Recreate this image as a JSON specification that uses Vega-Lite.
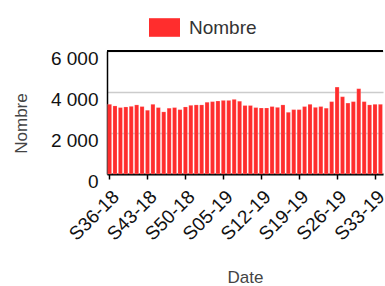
{
  "$schema": "https://vega.github.io/schema/vega-lite/v6.json",
  "width": 276,
  "height": 123,
  "autosize": {"type": "none"},
  "padding": {"left": 107, "top": 51, "right": 2, "bottom": 112},
  "config": {
    "font": "Liberation Sans",
    "view": {"stroke": null},
    "axis": {"labelFont": "Liberation Sans", "titleFont": "Liberation Sans"}
  },
  "data": {"values": [
    {"semaine": "S36-18", "nombre": 3400},
    {"semaine": "S37-18", "nombre": 3320},
    {"semaine": "S38-18", "nombre": 3240},
    {"semaine": "S39-18", "nombre": 3270},
    {"semaine": "S40-18", "nombre": 3300},
    {"semaine": "S41-18", "nombre": 3370},
    {"semaine": "S42-18", "nombre": 3290},
    {"semaine": "S43-18", "nombre": 3110},
    {"semaine": "S44-18", "nombre": 3400},
    {"semaine": "S45-18", "nombre": 3240},
    {"semaine": "S46-18", "nombre": 3030},
    {"semaine": "S47-18", "nombre": 3210},
    {"semaine": "S48-18", "nombre": 3240},
    {"semaine": "S49-18", "nombre": 3140},
    {"semaine": "S50-18", "nombre": 3270},
    {"semaine": "S51-18", "nombre": 3350},
    {"semaine": "S52-18", "nombre": 3370},
    {"semaine": "S01-19", "nombre": 3370},
    {"semaine": "S02-19", "nombre": 3500},
    {"semaine": "S03-19", "nombre": 3530},
    {"semaine": "S04-19", "nombre": 3560},
    {"semaine": "S05-19", "nombre": 3590},
    {"semaine": "S06-19", "nombre": 3590},
    {"semaine": "S07-19", "nombre": 3640},
    {"semaine": "S08-19", "nombre": 3550},
    {"semaine": "S09-19", "nombre": 3340},
    {"semaine": "S10-19", "nombre": 3340},
    {"semaine": "S11-19", "nombre": 3240},
    {"semaine": "S12-19", "nombre": 3220},
    {"semaine": "S13-19", "nombre": 3220},
    {"semaine": "S14-19", "nombre": 3290},
    {"semaine": "S15-19", "nombre": 3250},
    {"semaine": "S16-19", "nombre": 3370},
    {"semaine": "S17-19", "nombre": 3010},
    {"semaine": "S18-19", "nombre": 3140},
    {"semaine": "S19-19", "nombre": 3140},
    {"semaine": "S20-19", "nombre": 3290},
    {"semaine": "S21-19", "nombre": 3400},
    {"semaine": "S22-19", "nombre": 3250},
    {"semaine": "S23-19", "nombre": 3290},
    {"semaine": "S24-19", "nombre": 3210},
    {"semaine": "S25-19", "nombre": 3530},
    {"semaine": "S26-19", "nombre": 4240},
    {"semaine": "S27-19", "nombre": 3770},
    {"semaine": "S28-19", "nombre": 3460},
    {"semaine": "S29-19", "nombre": 3530},
    {"semaine": "S30-19", "nombre": 4160},
    {"semaine": "S31-19", "nombre": 3530},
    {"semaine": "S32-19", "nombre": 3370},
    {"semaine": "S33-19", "nombre": 3400},
    {"semaine": "S34-19", "nombre": 3400}
  ]},
  "layer": [
    {
      "mark": {"type": "bar", "stroke": "#ffffff", "strokeOpacity": 0.35, "strokeWidth": 0.5},
      "encoding": {
        "x": {
          "field": "semaine", "type": "nominal", "sort": null,
          "scale": {"paddingInner": 0.25, "paddingOuter": 0.1},
          "axis": {
            "title": "Date", "titleFontSize": 17, "titleColor": "#444", "titleFontWeight": "normal",
            "titlePadding": 26,
            "values": ["S36-18", "S43-18", "S50-18", "S05-19", "S12-19", "S19-19", "S26-19", "S33-19"],
            "labelAngle": -45, "labelFontSize": 19, "labelColor": "#111", "labelPadding": 8,
            "domainColor": "#000", "domainWidth": 2,
            "tickColor": "#000", "tickSize": 5, "tickWidth": 1.5
          }
        },
        "y": {
          "field": "nombre", "type": "quantitative",
          "scale": {"domain": [0, 6000]},
          "axis": {
            "title": "Nombre", "titleFontSize": 17, "titleColor": "#444", "titleFontWeight": "normal",
            "titlePadding": 20, "titleY": 72,
            "values": [0, 2000, 4000, 6000],
            "labelExpr": "replace(format(datum.value, ','), ',', ' ')",
            "labelFontSize": 19, "labelColor": "#111", "labelPadding": 9, "labelOffset": 7,
            "ticks": false, "domainColor": "#000", "domainWidth": 1.5,
            "gridColor": "#cccccc", "gridWidth": 1.5
          }
        },
        "color": {
          "datum": "Nombre", "type": "nominal",
          "scale": {"range": ["#ff2d2d"]},
          "legend": {
            "title": null, "orient": "none", "legendX": 42, "legendY": -39,
            "symbolType": "M-1,-0.6H1V0.6H-1Z", "symbolSize": 961, "symbolStrokeWidth": 0,
            "symbolOpacity": 1,
            "labelFontSize": 19, "labelColor": "#333", "labelOffset": 9
          }
        }
      }
    },
    {
      "mark": {"type": "rule", "color": "#000", "strokeWidth": 2, "clip": false},
      "encoding": {"y": {"datum": 6000}}
    }
  ]
}
